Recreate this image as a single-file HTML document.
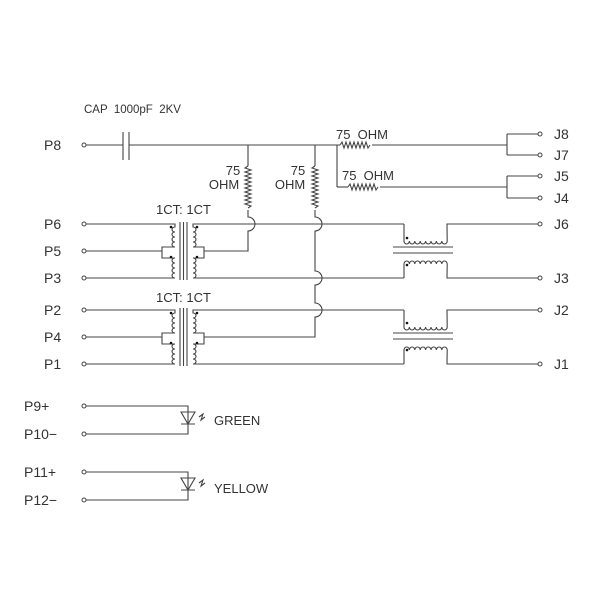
<!DOCTYPE html>
<html><head><style>
html,body{margin:0;padding:0;background:#fff}
svg{display:block}
text{font-family:"Liberation Sans",sans-serif;fill:#333;white-space:pre}
</style></head><body>
<svg width="600" height="600" viewBox="0 0 600 600" xmlns="http://www.w3.org/2000/svg">
<g fill="none" stroke="#444" stroke-width="1.1">
<line x1="86" y1="145" x2="123" y2="145"/>
<line x1="123" y1="132" x2="123" y2="160"/>
<line x1="129" y1="132" x2="129" y2="160"/>
<line x1="129" y1="145" x2="340" y2="145"/>
<path d="M340 145 l2 -3 l2 6 l2 -6 l2 6 l2 -6 l2 6 l2 -6 l2 6 l2 -6 l2 6 l2 -6 l2 6 l2 -6 l2 6 l2 -3"/>
<line x1="372" y1="145" x2="507" y2="145"/>
<line x1="337" y1="145" x2="337" y2="187"/>
<line x1="337" y1="187" x2="348" y2="187"/>
<path d="M348 187 l2 -3 l2 6 l2 -6 l2 6 l2 -6 l2 6 l2 -6 l2 6 l2 -6 l2 6 l2 -6 l2 6 l2 -6 l2 6 l2 -3"/>
<line x1="380" y1="187" x2="507" y2="187"/>
<line x1="507" y1="134" x2="507" y2="155"/>
<line x1="507" y1="134" x2="538" y2="134"/>
<line x1="507" y1="155" x2="538" y2="155"/>
<line x1="507" y1="176" x2="507" y2="198"/>
<line x1="507" y1="176" x2="538" y2="176"/>
<line x1="507" y1="198" x2="538" y2="198"/>
<line x1="248" y1="145" x2="248" y2="166"/>
<path d="M248 166 l-3 2 l6 2 l-6 2 l6 2 l-6 2 l6 2 l-6 2 l6 2 l-6 2 l6 2 l-6 2 l6 2 l-6 2 l6 2 l-6 2 l6 2 l-6 2 l6 2 l-6 2 l6 2 l-3 2"/>
<path d="M248 210 L248 217 A7 7 0 0 1 248 231 L248 251 L204 251"/>
<line x1="315" y1="145" x2="315" y2="166"/>
<path d="M315 166 l-3 2 l6 2 l-6 2 l6 2 l-6 2 l6 2 l-6 2 l6 2 l-6 2 l6 2 l-6 2 l6 2 l-6 2 l6 2 l-6 2 l6 2 l-6 2 l6 2 l-6 2 l6 2 l-3 2"/>
<path d="M315 210 L315 217 A7 7 0 0 1 315 231 L315 271 A7 7 0 0 1 315 285 L315 303 A7 7 0 0 1 315 317 L315 337 L204 337"/>
</g>
<g fill="none" stroke="#444" stroke-width="1.1">
<path d="M86 224 L175 224 L175 227 a3 2.5 0 0 0 0 5 a3 2.5 0 0 0 0 5 a3 2.5 0 0 0 0 5 a3 2.5 0 0 0 0 5 L175 247 L162 247 L162 258 L175 258 a3 2.5 0 0 0 0 5 a3 2.5 0 0 0 0 5 a3 2.5 0 0 0 0 5 a3 2.5 0 0 0 0 5 L175 278 L86 278"/>
<line x1="86" y1="251" x2="162" y2="251"/>
<line x1="180" y1="222" x2="180" y2="280"/>
<line x1="183.5" y1="222" x2="183.5" y2="280"/>
<line x1="187" y1="222" x2="187" y2="280"/>
<path d="M404 224 L193 224 L193 227 a3 2.5 0 0 1 0 5 a3 2.5 0 0 1 0 5 a3 2.5 0 0 1 0 5 a3 2.5 0 0 1 0 5 L193 247 L204 247 L204 258 L193 258 a3 2.5 0 0 1 0 5 a3 2.5 0 0 1 0 5 a3 2.5 0 0 1 0 5 a3 2.5 0 0 1 0 5 L193 278 L404 278"/>
<path d="M86 310 L175 310 L175 313 a3 2.5 0 0 0 0 5 a3 2.5 0 0 0 0 5 a3 2.5 0 0 0 0 5 a3 2.5 0 0 0 0 5 L175 333 L162 333 L162 344 L175 344 a3 2.5 0 0 0 0 5 a3 2.5 0 0 0 0 5 a3 2.5 0 0 0 0 5 a3 2.5 0 0 0 0 5 L175 364 L86 364"/>
<line x1="86" y1="337" x2="162" y2="337"/>
<line x1="180" y1="308" x2="180" y2="366"/>
<line x1="183.5" y1="308" x2="183.5" y2="366"/>
<line x1="187" y1="308" x2="187" y2="366"/>
<path d="M404 310 L193 310 L193 313 a3 2.5 0 0 1 0 5 a3 2.5 0 0 1 0 5 a3 2.5 0 0 1 0 5 a3 2.5 0 0 1 0 5 L193 333 L204 333 L204 344 L193 344 a3 2.5 0 0 1 0 5 a3 2.5 0 0 1 0 5 a3 2.5 0 0 1 0 5 a3 2.5 0 0 1 0 5 L193 364 L404 364"/>
<path d="M404 224 L404 241 a2.7 3 0 0 0 5.4 0 a2.7 3 0 0 0 5.4 0 a2.7 3 0 0 0 5.4 0 a2.7 3 0 0 0 5.4 0 a2.7 3 0 0 0 5.4 0 a2.7 3 0 0 0 5.4 0 a2.7 3 0 0 0 5.4 0 a2.7 3 0 0 0 5.4 0 L447 224 L538 224"/>
<line x1="393" y1="247" x2="453" y2="247"/>
<line x1="393" y1="253" x2="453" y2="253"/>
<path d="M404 278 L404 264 a2.7 3 0 0 1 5.4 0 a2.7 3 0 0 1 5.4 0 a2.7 3 0 0 1 5.4 0 a2.7 3 0 0 1 5.4 0 a2.7 3 0 0 1 5.4 0 a2.7 3 0 0 1 5.4 0 a2.7 3 0 0 1 5.4 0 a2.7 3 0 0 1 5.4 0 L447 278 L538 278"/>
<path d="M404 310 L404 327 a2.7 3 0 0 0 5.4 0 a2.7 3 0 0 0 5.4 0 a2.7 3 0 0 0 5.4 0 a2.7 3 0 0 0 5.4 0 a2.7 3 0 0 0 5.4 0 a2.7 3 0 0 0 5.4 0 a2.7 3 0 0 0 5.4 0 a2.7 3 0 0 0 5.4 0 L447 310 L538 310"/>
<line x1="393" y1="333" x2="453" y2="333"/>
<line x1="393" y1="339" x2="453" y2="339"/>
<path d="M404 364 L404 350 a2.7 3 0 0 1 5.4 0 a2.7 3 0 0 1 5.4 0 a2.7 3 0 0 1 5.4 0 a2.7 3 0 0 1 5.4 0 a2.7 3 0 0 1 5.4 0 a2.7 3 0 0 1 5.4 0 a2.7 3 0 0 1 5.4 0 a2.7 3 0 0 1 5.4 0 L447 364 L538 364"/>
<path d="M86 406 L188 406 L188 434 L86 434"/>
<path d="M86 472 L188 472 L188 500 L86 500"/>
<path d="M181 412 L195 412 L188 424 Z M181 424 L195 424"/>
<path d="M181 478 L195 478 L188 490 Z M181 490 L195 490"/>
<path d="M199 417 l4 -3 l-2 6 l4 -3 M199 483 l4 -3 l-2 6 l4 -3"/>
<g fill="#fff" stroke-width="1">
<circle cx="84" cy="145" r="2"/>
<circle cx="84" cy="224" r="2"/><circle cx="84" cy="251" r="2"/><circle cx="84" cy="278" r="2"/>
<circle cx="84" cy="310" r="2"/><circle cx="84" cy="337" r="2"/><circle cx="84" cy="364" r="2"/>
<circle cx="84" cy="406" r="2"/><circle cx="84" cy="434" r="2"/><circle cx="84" cy="472" r="2"/><circle cx="84" cy="500" r="2"/>
<circle cx="540" cy="134" r="2"/><circle cx="540" cy="155" r="2"/><circle cx="540" cy="176" r="2"/><circle cx="540" cy="198" r="2"/>
<circle cx="540" cy="224" r="2"/><circle cx="540" cy="278" r="2"/><circle cx="540" cy="310" r="2"/><circle cx="540" cy="364" r="2"/>
</g>
</g>
<g fill="#111">
<circle cx="171" cy="227" r="1.3"/><circle cx="171" cy="257" r="1.3"/><circle cx="197" cy="227" r="1.3"/><circle cx="197" cy="257" r="1.3"/>
<circle cx="171" cy="313" r="1.3"/><circle cx="171" cy="343" r="1.3"/><circle cx="197" cy="313" r="1.3"/><circle cx="197" cy="343" r="1.3"/>
<circle cx="407" cy="238" r="1.3"/><circle cx="407" cy="265" r="1.3"/><circle cx="407" cy="323" r="1.3"/><circle cx="407" cy="350" r="1.3"/>
</g>
<g font-size="14">
<text x="44" y="150">P8</text>
<text x="44" y="229">P6</text><text x="44" y="256">P5</text><text x="44" y="283">P3</text>
<text x="44" y="315">P2</text><text x="44" y="342">P4</text><text x="44" y="369">P1</text>
<text x="24" y="411">P9+</text><text x="24" y="439">P10−</text>
<text x="24" y="477">P11+</text><text x="24" y="505">P12−</text>
<text x="554" y="139">J8</text><text x="554" y="160">J7</text><text x="554" y="181">J5</text><text x="554" y="203">J4</text>
<text x="554" y="229">J6</text><text x="554" y="283">J3</text><text x="554" y="315">J2</text><text x="554" y="369">J1</text>
</g>
<g font-size="13">
<text x="156" y="214">1CT: 1CT</text><text x="156" y="302">1CT: 1CT</text>
<text x="233" y="175" text-anchor="middle">75</text><text x="224" y="189" text-anchor="middle">OHM</text>
<text x="298" y="175" text-anchor="middle">75</text><text x="290" y="189" text-anchor="middle">OHM</text>
<text x="336" y="139">75  OHM</text><text x="342" y="180">75  OHM</text>
<text x="214" y="425">GREEN</text><text x="214" y="493">YELLOW</text>
</g>
<text x="84" y="113" font-size="11.5">CAP  1000pF  2KV</text>
</svg>
</body></html>
